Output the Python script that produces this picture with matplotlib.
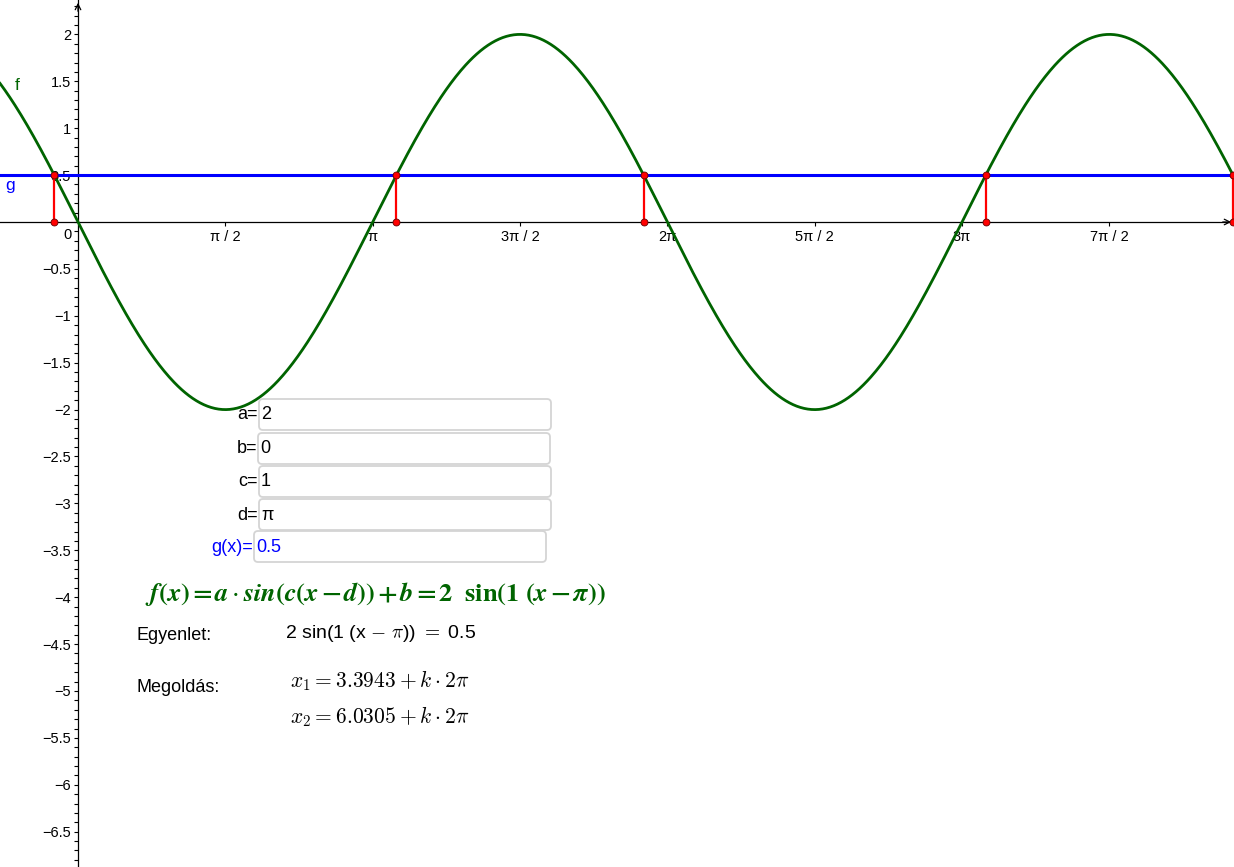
import numpy as np
import matplotlib.pyplot as plt
from matplotlib.patches import FancyBboxPatch

plt.rcParams['font.family'] = ['Liberation Sans', 'DejaVu Sans']

# parameters of f(x) = a*sin(c(x-d)) + b and the line g(x)
a, b, c, d = 2, 0, 1, np.pi
g_val = 0.5
# solutions of f(x) = g visible on screen
sol_x = [-0.2527, 3.3943, 6.0305, 9.6775, 12.3137]

x_ticks = [np.pi / 2, np.pi, 3 * np.pi / 2, 2 * np.pi, 5 * np.pi / 2, 3 * np.pi, 7 * np.pi / 2]
x_tick_labels = ['π / 2', 'π', '3π / 2', '2π', '5π / 2', '3π', '7π / 2']
y_ticks = [2, 1.5, 1, 0.5, -0.5, -1, -1.5, -2, -2.5, -3, -3.5, -4, -4.5, -5, -5.5, -6, -6.5]

box_names = ['a=', 'b=', 'c=', 'd=', 'g(x)=']
box_values = ['2', '0', '1', 'π', '0.5']
box_colors = ['black', 'black', 'black', 'black', 'blue']

W, H = 1234, 867
ox, oy, sc = 78, 222, 93.8   # pixel origin and px per unit


def to_data(px, py):
    return (px - ox) / sc, (oy - py) / sc


fig = plt.figure(figsize=(W / 100, H / 100), dpi=100)
ax = fig.add_axes([0, 0, 1, 1])
x0, y1 = to_data(0, 0)
x1, y0 = to_data(W, H)
ax.set_xlim(x0, x1)
ax.set_ylim(y0, y1)

# axes through origin
for s in ['top', 'right']:
    ax.spines[s].set_visible(False)
ax.spines['left'].set_position('zero')
ax.spines['bottom'].set_position('zero')
ax.spines['left'].set_linewidth(0.9)
ax.spines['bottom'].set_linewidth(0.9)
ax.set_xticks(x_ticks)
ax.set_xticklabels(x_tick_labels)
ax.set_yticks(y_ticks)
ax.set_yticklabels([('%g' % v).replace('-', '\u2212') for v in y_ticks])
ax.set_yticks(np.arange(-68, 24) / 10, minor=True)
ax.tick_params(axis='both', which='major', direction='out', length=3, width=0.8,
               labelsize=10.5, colors='black', pad=2)
ax.tick_params(axis='y', which='minor', direction='out', length=3, width=0.8)
ax.tick_params(axis='x', pad=3)
ax.text(-0.117, -0.14, '0', fontsize=10.5, ha='center', va='center')

ax.annotate('', xy=(0, y1), xytext=(0, y1 - 0.15),
            arrowprops=dict(arrowstyle='->', lw=0.9, color='black', mutation_scale=10))
ax.annotate('', xy=(x1, 0), xytext=(x1 - 0.15, 0),
            arrowprops=dict(arrowstyle='->', lw=0.9, color='black', mutation_scale=10))

# curve f and line g
xs = np.linspace(x0, x1, 1000)
ax.plot(xs, a * np.sin(c * (xs - d)) + b, color='#006400', lw=2, zorder=3)
ax.axhline(g_val, color='#0000ff', lw=2.2, zorder=3)
ax.text(-0.65, 1.46, 'f', color='#006400', fontsize=12.5, ha='center', va='center')
ax.text(-0.725, 0.39, 'g', color='#0000ff', fontsize=12.5, ha='center', va='center')

for sx in sol_x:
    ax.plot([sx, sx], [0, g_val], color='#ff0000', lw=1.6, zorder=4)
    ax.plot([sx, sx], [0, g_val], 'o', color='#ff0000', mec='#660000', mew=0.6,
            ms=5, zorder=5, clip_on=False)

# input boxes
box_left = [259, 258, 259, 259, 254]
box_top = [399, 433, 466, 499, 531]
for name, val, col, bl, bt in zip(box_names, box_values, box_colors, box_left, box_top):
    bx, by = to_data(bl, bt + 31)
    ax.add_patch(FancyBboxPatch((bx, by), 292 / sc, 31 / sc,
                                boxstyle='round,pad=0,rounding_size=%f' % (4 / sc),
                                fc='white', ec='#d4d4d4', lw=1.3, zorder=6))
    tx, ty = to_data(bl - 1, bt + 16)
    ax.text(tx, ty, name, color=col, fontsize=13, ha='right', va='center', zorder=7)
    tx, ty = to_data(bl + 2, bt + 16)
    ax.text(tx, ty, val, color=col, fontsize=13, ha='left', va='center', zorder=7)

# formulas
tx, ty = to_data(145, 594)
ax.text(tx, ty, r'$\boldsymbol{f(x)=a}\cdot\boldsymbol{sin(c(x-d))+b=}\mathbf{2\ \ sin(1\ (}\boldsymbol{x-\pi}\mathbf{))}$',
        color='#006400', fontsize=19, ha='left', va='center', math_fontfamily='stix')

tx, ty = to_data(136, 636)
ax.text(tx, ty, 'Egyenlet:', fontsize=13, ha='left', va='center')
tx, ty = to_data(285, 633)
ax.text(tx, ty, '2 sin(1 (x $-$ $\\pi$)) $=$ 0.5', fontsize=14, ha='left', va='center',
        math_fontfamily='cm')
tx, ty = to_data(136, 688)
ax.text(tx, ty, 'Megoldás:', fontsize=13, ha='left', va='center')
tx, ty = to_data(290, 681)
ax.text(tx, ty, r'$x_1 = %.4f + k\cdot 2\pi$' % sol_x[1], fontsize=15.5, ha='left', va='center',
        math_fontfamily='cm')
tx, ty = to_data(290, 717)
ax.text(tx, ty, r'$x_2 = %.4f + k\cdot 2\pi$' % sol_x[2], fontsize=15.5, ha='left', va='center',
        math_fontfamily='cm')

plt.savefig('out.png', dpi=100)
